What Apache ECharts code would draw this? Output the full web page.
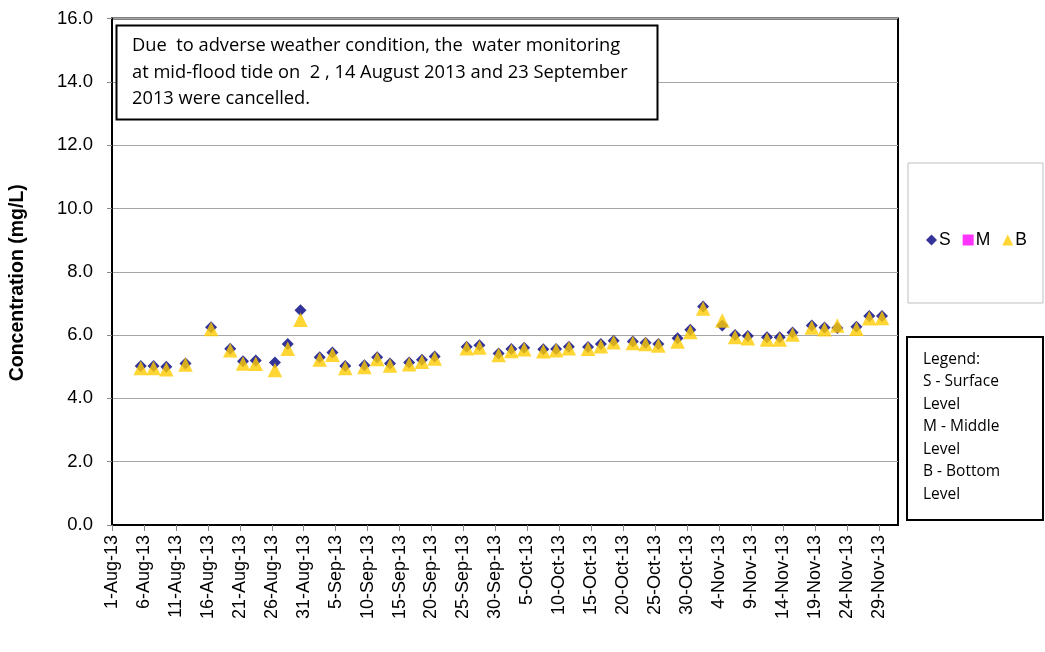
<!DOCTYPE html>
<html>
<head>
<meta charset="utf-8">
<script src="https://cdn.jsdelivr.net/npm/echarts@6/dist/echarts.min.js"></script>
<style>html,body{margin:0;padding:0;background:#fff}#c{width:1045px;height:652px}</style>
</head>
<body>
<div id="c"></div>
<script>
// ---- data ----
const dates = [
  '2013-08-05','2013-08-07','2013-08-09','2013-08-12','2013-08-16','2013-08-19','2013-08-21','2013-08-23',
  '2013-08-26','2013-08-28','2013-08-30','2013-09-02','2013-09-04','2013-09-06','2013-09-09','2013-09-11',
  '2013-09-13','2013-09-16','2013-09-18','2013-09-20','2013-09-25','2013-09-27','2013-09-30','2013-10-02',
  '2013-10-04','2013-10-07','2013-10-09','2013-10-11','2013-10-14','2013-10-16','2013-10-18','2013-10-21',
  '2013-10-23','2013-10-25','2013-10-28','2013-10-30','2013-11-01','2013-11-04','2013-11-06','2013-11-08',
  '2013-11-11','2013-11-13','2013-11-15','2013-11-18','2013-11-20','2013-11-22','2013-11-25','2013-11-27',
  '2013-11-29'
];
const surface = [
  5.02,5.02,5.00,5.10,6.25,5.57,5.17,5.20,
  5.13,5.72,6.78,5.30,5.45,5.02,5.05,5.30,
  5.10,5.13,5.22,5.32,5.63,5.68,5.42,5.56,
  5.60,5.55,5.56,5.63,5.62,5.72,5.82,5.80,
  5.76,5.72,5.90,6.17,6.90,6.30,6.00,5.97,
  5.93,5.93,6.08,6.30,6.24,6.22,6.26,6.60,
  6.60
];
const middle = [];
const bottom = [
  4.96,4.96,4.92,5.07,6.19,5.52,5.10,5.09,
  4.90,5.57,6.48,5.23,5.38,4.96,4.99,5.24,
  5.04,5.08,5.16,5.26,5.58,5.61,5.37,5.50,
  5.55,5.49,5.52,5.58,5.57,5.65,5.77,5.75,
  5.72,5.67,5.80,6.10,6.84,6.46,5.94,5.90,
  5.86,5.86,6.02,6.24,6.18,6.30,6.20,6.53,
  6.54
];
const axisStart = '2013-08-01';
const axisEnd = '2013-12-02';
const yTicks = [0, 2, 4, 6, 8, 10, 12, 14, 16];
const seriesNames = ['S', 'M', 'B'];
const noteText = ['Due  to adverse weather condition, the  water monitoring',
                  'at mid-flood tide on  2 , 14 August 2013 and 23 September',
                  '2013 were cancelled.'];
const legendText = ['Legend:', 'S - Surface', 'Level', 'M - Middle', 'Level', 'B - Bottom', 'Level'];

// ---- helpers ----
const MON = ['Jan','Feb','Mar','Apr','May','Jun','Jul','Aug','Sep','Oct','Nov','Dec'];
function utc(s){ const p = s.split('-').map(Number); return Date.UTC(p[0], p[1]-1, p[2]); }
const t0 = utc(axisStart);
function dayIdx(s){ return (utc(s) - t0) / 86400000; }
function fmtDay(v){
  const d = new Date(t0 + v * 86400000);
  return d.getUTCDate() + '-' + MON[d.getUTCMonth()] + '-' + String(d.getUTCFullYear()).slice(2);
}
const xMax = dayIdx(axisEnd);
const pts = vals => vals.map((v, i) => [dayIdx(dates[i]) + 0.5, v]);

const chart = echarts.init(document.getElementById('c'));
const fontTxt = '"Open Sans", Lato, sans-serif';
chart.setOption({
  animation: false,
  grid: { left: 111.5, top: 18.5, right: 147, bottom: 127, show: true, borderColor: '#000', borderWidth: 2 },
  xAxis: {
    type: 'value', min: 0, max: xMax, interval: 5,
    axisLine: { show: true, lineStyle: { color: '#000', width: 2 } },
    axisTick: { show: true, length: 6, lineStyle: { color: '#888' } },
    splitLine: { show: false },
    axisLabel: {
      rotate: 90, margin: 10, fontSize: 18, color: '#000', fontFamily: 'Liberation Sans, Arial',
      showMaxLabel: false,
      formatter: v => (v % 5 === 0 ? fmtDay(v) : '')
    }
  },
  yAxis: {
    type: 'value', min: yTicks[0], max: yTicks[yTicks.length-1], interval: yTicks[1]-yTicks[0],
    name: 'Concentration (mg/L)', nameLocation: 'middle', nameGap: 84,
    nameTextStyle: { fontSize: 19.5, fontWeight: 'bold', color: '#000', fontFamily: 'Liberation Sans, Arial',
      padding: [0, 22, 0, 0] },
    axisLine: { show: true, lineStyle: { color: '#000', width: 2 } },
    axisTick: { show: true, length: 5, lineStyle: { color: '#888' } },
    splitLine: { show: true, lineStyle: { color: '#A6A6A6', width: 1 } },
    axisLabel: { margin: 19, fontSize: 18.5, color: '#000', fontFamily: 'Liberation Sans, Arial',
      formatter: v => v.toFixed(1) }
  },
  legend: {
    data: [
      { name: seriesNames[0], icon: 'diamond' },
      { name: seriesNames[1], icon: 'rect' },
      { name: seriesNames[2], icon: 'triangle' }
    ],
    left: 921, top: 226, orient: 'horizontal', itemWidth: 11, itemHeight: 11, itemGap: 12,
    textStyle: { fontSize: 17.5, color: '#000', fontFamily: 'Liberation Sans, Arial', padding: [0,0,0,-3] }
  },
  graphic: [
    { type: 'rect', z: 0, shape: { x: 908, y: 163, width: 135, height: 140 },
      style: { fill: '#fff', stroke: '#BFBFBF', lineWidth: 1 } },
    { type: 'rect', z: 10, shape: { x: 907, y: 337, width: 136, height: 183 },
      style: { fill: '#fff', stroke: '#000', lineWidth: 2 } },
    { type: 'text', z: 11, left: 923, top: 348,
      style: { text: legendText.join('\n'), fontSize: 15.5, lineHeight: 22.5, fill: '#000', fontFamily: fontTxt } },
    { type: 'rect', z: 10, shape: { x: 116.5, y: 25.5, width: 541, height: 94 },
      style: { fill: '#fff', stroke: '#000', lineWidth: 2 } },
    { type: 'text', z: 11, left: 132, top: 33,
      style: { text: noteText.join('\n'), fontSize: 18.3, lineHeight: 26.5, fill: '#000', fontFamily: fontTxt } }
  ],
  series: [
    { name: seriesNames[0], type: 'scatter', symbol: 'diamond', symbolSize: 12,
      itemStyle: { color: '#000080' }, data: pts(surface) },
    { name: seriesNames[1], type: 'scatter', symbol: 'rect', symbolSize: 10,
      itemStyle: { color: '#FF00FF' }, data: pts(middle) },
    { name: seriesNames[2], type: 'scatter', symbol: 'triangle', symbolSize: 14.5,
      itemStyle: { color: '#FFCC00' }, data: pts(bottom) }
  ]
});
</script>
</body>
</html>
